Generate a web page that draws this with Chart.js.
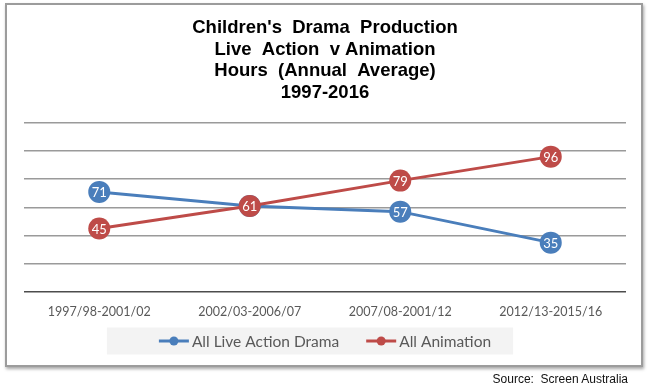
<!DOCTYPE html>
<html>
<head>
<meta charset="utf-8">
<script src="https://cdn.jsdelivr.net/npm/chart.js@4/dist/chart.umd.min.js"></script>
<style>
  html, body { margin: 0; padding: 0; background: #fff; }
  #wrap { position: relative; width: 650px; height: 390px; }
  #frame { position: absolute; left: 5px; top: 3px; width: 634px; height: 360px;
           border: 2px solid #9c9c9c; box-shadow: 1px 2px 3px rgba(0,0,0,0.35); background: #fff; }
  #c { position: absolute; left: 0; top: 0; }
  #source { position: absolute; right: 22px; top: 372px; font: 12px "Liberation Sans", Arial, sans-serif; color: #111; }
</style>
</head>
<body>
<div id="wrap">
  <div id="frame"></div>
  <canvas id="c" width="650" height="390"></canvas>
  <div id="source">Source:&nbsp; Screen Australia</div>
</div>
<script>
const categories = ["1997/98-2001/02", "2002/03-2006/07", "2007/08-2001/12", "2012/13-2015/16"];
const liveAction = [71, 61, 57, 35];
const animation = [45, 61, 79, 96];
const seriesNames = ["All Live Action Drama", "All Animation"];
const titleLines = ["Children's  Drama  Production", "Live  Action  v Animation", "Hours  (Annual  Average)", "1997-2016"];

const BLUE = '#4a7ebb';
const RED = '#be4b48';
const LEGEND_FONT = '15.5px Lato, "Open Sans", sans-serif';

const valueLabels = {
  id: 'valueLabels',
  afterDatasetDraw(chart, args) {
    const ctx = chart.ctx;
    const ds = chart.data.datasets[args.index];
    ctx.save();
    ctx.fillStyle = '#ffffff';
    ctx.font = '13px Lato, "Open Sans", sans-serif';
    ctx.textAlign = 'center';
    ctx.textBaseline = 'middle';
    args.meta.data.forEach((pt, i) => {
      ctx.fillText(String(ds.data[i]), pt.x, pt.y + 1);
    });
    ctx.restore();
  }
};

// Custom legend: line-with-dot marker, grey background band
const customLegend = {
  id: 'customLegend',
  afterDraw(chart) {
    const ctx = chart.ctx;
    const dss = chart.data.datasets;
    const markerW = 30, textGap = 3, itemGap = 27;
    ctx.save();
    ctx.font = LEGEND_FONT;
    const widths = dss.map(d => ctx.measureText(d.label).width);
    let total = 0;
    widths.forEach((w, i) => { total += markerW + textGap + w + (i < widths.length - 1 ? itemGap : 0); });
    const cx = chart.width / 2;
    const cy = chart.chartArea.bottom + 49;
    let x = cx - total / 2;
    ctx.fillStyle = '#f3f3f3';
    ctx.fillRect(x - 52, cy - 13.5, total + 74, 27);
    dss.forEach((d, i) => {
      ctx.strokeStyle = d.borderColor; ctx.lineWidth = 3;
      ctx.beginPath(); ctx.moveTo(x, cy); ctx.lineTo(x + markerW, cy); ctx.stroke();
      ctx.fillStyle = d.borderColor;
      ctx.beginPath(); ctx.arc(x + markerW / 2, cy, 4.5, 0, Math.PI * 2); ctx.fill();
      ctx.fillStyle = '#595959';
      ctx.textAlign = 'left'; ctx.textBaseline = 'middle';
      ctx.fillText(d.label, x + markerW + textGap, cy + 1);
      x += markerW + textGap + widths[i] + itemGap;
    });
    ctx.restore();
  }
};

new Chart(document.getElementById('c'), {
  type: 'line',
  data: {
    labels: categories,
    datasets: [
      { label: seriesNames[0], data: liveAction, borderColor: BLUE, backgroundColor: BLUE,
        pointBackgroundColor: BLUE, pointBorderColor: BLUE, pointRadius: 11, pointBorderWidth: 0,
        borderWidth: 3, tension: 0, order: 1 },
      { label: seriesNames[1], data: animation, borderColor: RED, backgroundColor: RED,
        pointBackgroundColor: RED, pointBorderColor: RED, pointRadius: 11, pointBorderWidth: 0,
        borderWidth: 3, tension: 0, order: 0 }
    ]
  },
  options: {
    responsive: false,
    animation: false,
    layout: { padding: { left: 24, right: 24, top: 0, bottom: 59 } },
    scales: {
      x: {
        offset: true,
        grid: { display: false, drawTicks: false },
        border: { display: false },
        ticks: { color: '#595959', padding: 12, font: { family: 'Lato, "Open Sans", sans-serif', size: 12.5 } }
      },
      y: {
        min: 0, max: 120,
        ticks: { display: false, stepSize: 20 },
        border: { display: false },
        grid: {
          drawTicks: false,
          lineWidth: 1.5,
          color: (c) => c.tick && c.tick.value === 0 ? '#4d4d4d' : '#9a9a9a'
        }
      }
    },
    plugins: {
      title: {
        display: true,
        text: titleLines,
        color: '#000',
        font: { family: '"Liberation Sans", Arial, sans-serif', size: 18.5, weight: 'bold', lineHeight: 1.173 },
        padding: { top: 17, bottom: 19 }
      },
      legend: { display: false },
      tooltip: { enabled: false }
    }
  },
  plugins: [valueLabels, customLegend]
});
</script>
</body>
</html>
